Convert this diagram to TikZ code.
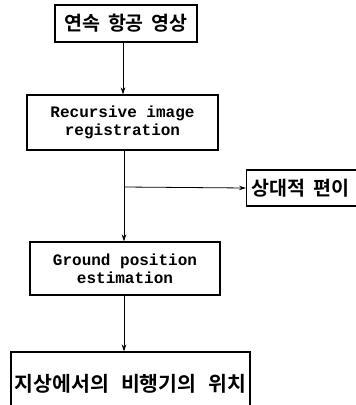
\documentclass[tikz,border=0pt]{standalone}
\usepackage{fontspec}
\newfontfamily\kor{Noto Sans CJK KR}[BoldFont={Noto Sans CJK KR Bold}]
\newfontfamily\mono{Liberation Mono}
\usetikzlibrary{arrows.meta, positioning}

\tikzset{
  blk/.style={draw, line width=1.1pt, inner sep=0pt, align=center},
  engtext/.style={font=\mono\bfseries\fontsize{16}{18}\selectfont},
  kortext/.style={font=\kor\bfseries\fontsize{19.5}{22}\selectfont},
  arr/.style={-{Stealth[length=7pt,width=4.5pt]}, line width=0.8pt},
}

\begin{document}
\begin{tikzpicture}[x=1pt, y=-1pt]
  \useasboundingbox (0,0) rectangle (356,405);
  % boxes
  \node[blk, kortext, minimum width=142pt, minimum height=37pt] (img) at (126,23.5) {연속\hspace{8pt}항공\hspace{8pt}영상};
  \node[blk, engtext, minimum width=191pt, minimum height=55pt] (reg) at (122.5,122.5) {Recursive image\\registration};
  \node[blk, kortext, anchor=west, minimum width=120pt, minimum height=36pt] (disp) at (246,188) {\hspace{-12pt}상대적\hspace{8pt}편이};
  \node[blk, engtext, minimum width=190pt, minimum height=53pt] (gnd) at (125,268.5) {Ground position\\estimation};
  \node[blk, kortext, font=\kor\bfseries\fontsize{20.5}{22}\selectfont, minimum width=239pt, minimum height=64pt] (pos) at (130.5,384) {지상에서의\hspace{12pt}비행기의\hspace{12pt}위치};
  % connectors
  \coordinate (up) at (123,0);
  \coordinate (split) at (124,187);
  \draw[arr] (img.south -| up) -- (reg.north -| up);
  \draw[arr] (reg.south -| split) -- (gnd.north -| split);
  \draw[arr] (split) -- (disp.west);
  \draw[arr] (gnd.south -| split) -- (pos.north -| split);
\end{tikzpicture}
\end{document}
